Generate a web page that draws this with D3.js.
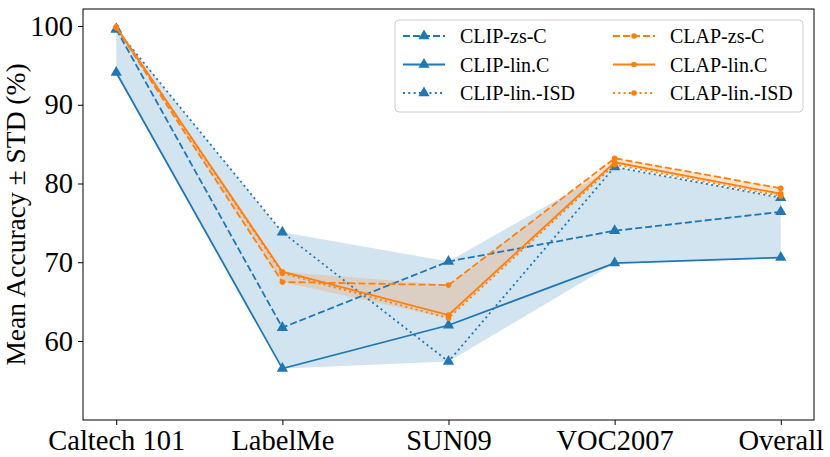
<!DOCTYPE html>
<html><head><meta charset="utf-8">
<script src="https://cdn.jsdelivr.net/npm/d3@7"></script>
<style>body{margin:0;background:#fff}</style>
</head><body>
<svg id="c" width="830" height="457"></svg>
<script>
const categories = ["Caltech 101", "LabelMe", "SUN09", "VOC2007", "Overall"];
const clipZsC    = [99.6, 61.7, 70.1, 74.0, 76.4];
const clipLinC   = [94.1, 56.5, 62.0, 69.9, 70.6];
const clipLinISD = [99.6, 73.8, 57.4, 82.1, 78.2];
const clapZsC    = [99.8, 67.5, 67.1, 83.2, 79.4];
const clapLinC   = [99.9, 68.8, 63.3, 82.7, 78.7];
const clapLinISD = [99.8, 68.6, 62.9, 82.4, 78.4];
const yTicks = [60, 70, 80, 90, 100];
const legendLabels = ["CLIP-zs-C","CLIP-lin.C","CLIP-lin.-ISD","CLAP-zs-C","CLAP-lin.C","CLAP-lin.-ISD"];

const BLUE = "#1f77b4", ORANGE = "#ff7f0e";
const FONT = "'Liberation Serif','Times New Roman',serif";
const L = 83, R = 814, T = 9, B = 420;

const svg = d3.select("#c");
const x = d3.scalePoint().domain(categories).range([L, R]).padding(0.2);
const y = d3.scaleLinear().domain([49.97, 102.16]).range([B, T]);

const series = [
  {v: clipZsC, c: BLUE, dash: "7,3", m: "tri"},
  {v: clipLinC, c: BLUE, dash: null, m: "tri"},
  {v: clipLinISD, c: BLUE, dash: "2,3.3", m: "tri"},
  {v: clapZsC, c: ORANGE, dash: "7,3", m: "dot"},
  {v: clapLinC, c: ORANGE, dash: null, m: "dot"},
  {v: clapLinISD, c: ORANGE, dash: "2,3.3", m: "dot"}
];

// shaded bands between min and max of each family
function band(group, color) {
  const pts = categories.map((cat, i) => ({
    cat, lo: d3.min(group, s => s[i]), hi: d3.max(group, s => s[i])
  }));
  const area = d3.area().x(d => x(d.cat)).y0(d => y(d.lo)).y1(d => y(d.hi));
  svg.append("path").attr("d", area(pts)).attr("fill", color).attr("fill-opacity", 0.2);
}
band([clipZsC, clipLinC, clipLinISD], BLUE);
band([clapZsC, clapLinC, clapLinISD], ORANGE);

const line = d3.line().x((d, i) => x(categories[i])).y(d => y(d));
const tri = d3.symbol().type(d3.symbolTriangle).size(55);

function marker(g, m, c, cx, cy) {
  if (m === "tri") {
    g.append("path").attr("d", tri()).attr("transform", `translate(${cx},${cy})`).attr("fill", c);
  } else {
    g.append("circle").attr("cx", cx).attr("cy", cy).attr("r", 2.8).attr("fill", c);
  }
}

series.forEach(s => {
  svg.append("path").attr("d", line(s.v)).attr("fill", "none").attr("stroke", s.c)
    .attr("stroke-width", 1.8).attr("stroke-dasharray", s.dash);
  const g = svg.append("g");
  s.v.forEach((d, i) => marker(g, s.m, s.c, x(categories[i]), y(d)));
});

// axes frame
svg.append("rect").attr("x", L).attr("y", T).attr("width", R - L).attr("height", B - T)
  .attr("fill", "none").attr("stroke", "#000").attr("stroke-width", 1);

const yAxis = svg.append("g").attr("transform", `translate(${L},0)`)
  .call(d3.axisLeft(y).tickValues(yTicks).tickSize(5).tickPadding(5));
const xAxis = svg.append("g").attr("transform", `translate(0,${B})`)
  .call(d3.axisBottom(x).tickSize(5).tickPadding(4.5));
[yAxis, xAxis].forEach(a => {
  a.select(".domain").remove();
  a.selectAll("line").attr("stroke", "#000");
  a.selectAll("text").attr("font-family", FONT).attr("font-size", 28.5).attr("fill", "#000");
});

svg.append("text").attr("transform", `translate(25,${(T + B) / 2}) rotate(-90)`)
  .attr("text-anchor", "middle").attr("font-family", FONT).attr("font-size", 27.5)
  .text("Mean Accuracy \u00b1 STD (%)");

// legend
const lg = svg.append("g");
lg.append("rect").attr("x", 395).attr("y", 20).attr("width", 408).attr("height", 92)
  .attr("rx", 4).attr("fill", "#fff").attr("fill-opacity", 0.8).attr("stroke", "#ccc");
series.forEach((s, k) => {
  const col = Math.floor(k / 3), row = k % 3;
  const hx = col === 0 ? 403 : 613, ty = 36 + row * 28.5;
  lg.append("line").attr("x1", hx).attr("x2", hx + 42).attr("y1", ty).attr("y2", ty)
    .attr("stroke", s.c).attr("stroke-width", 1.8).attr("stroke-dasharray", s.dash);
  marker(lg, s.m, s.c, hx + 21, ty);
  lg.append("text").attr("x", hx + 57).attr("y", ty).attr("dy", "0.35em")
    .attr("font-family", FONT).attr("font-size", 20).text(legendLabels[k]);
});
</script>
</body></html>
